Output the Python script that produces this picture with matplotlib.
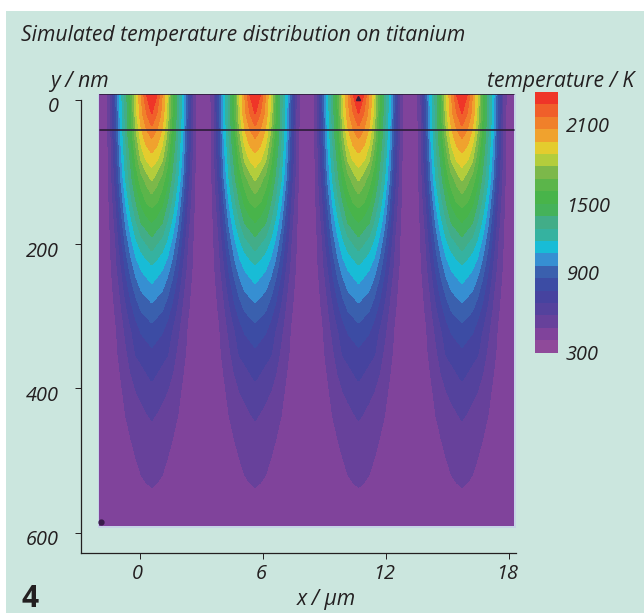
import numpy as np
import matplotlib
matplotlib.use("Agg")
import matplotlib.pyplot as plt
from matplotlib.colors import ListedColormap, BoundaryNorm
from matplotlib.patches import Rectangle
from matplotlib.transforms import ScaledTranslation

title = "Simulated temperature distribution on titanium"
x_label = "x / µm"
y_label = "y / nm"
cbar_label = "temperature / K"
panel = "4"
x_ticks = [0, 6, 12, 18]
y_ticks = [0, 200, 400, 600]
cbar_ticks = [300, 900, 1500, 2100]

peak_x = [0.585, 5.625, 10.665, 15.705]
offsets = [0, 0.25, 0.5, 0.75, 1.0, 1.25, 1.5, 1.75, 2.0, 2.25, 2.52]
depths = [-8, 20, 50, 80, 110, 140, 170, 200, 230, 260, 290, 320, 350, 400, 450, 500, 550, 590]
temperature = [
    [2310, 2220, 2028, 1836, 1548, 1300, 1120, 870, 570, 430, 410],
    [2215, 2110, 1993, 1803, 1527, 1292, 1106, 836, 564, 425, 410],
    [2040, 1988, 1890, 1710, 1474, 1266, 1075, 810, 557, 425, 410],
    [1900, 1859, 1766, 1592, 1390, 1224, 1027, 769, 547, 420, 410],
    [1750, 1676, 1602, 1483, 1316, 1170, 972, 719, 534, 420, 410],
    [1590, 1558, 1477, 1362, 1235, 1085, 888, 660, 519, 420, 410],
    [1447, 1403, 1359, 1247, 1135, 996, 810, 615, 502, 420, 410],
    [1304, 1254, 1204, 1134, 1031, 900, 734, 579, 490, 420, 410],
    [1154, 1121, 1088, 1028, 934, 809, 670, 553, 480, 420, 410],
    [1048, 1018, 988, 922, 834, 731, 611, 524, 465, 420, 410],
    [938, 911, 885, 825, 752, 659, 571, 502, 455, 420, 410],
    [838, 814, 790, 738, 672, 606, 540, 480, 445, 420, 410],
    [761, 738, 715, 693, 633, 569, 513, 475, 440, 420, 410],
    [663, 640, 617, 593, 555, 515, 482, 455, 425, 415, 410],
    [578, 560, 540, 520, 503, 485, 465, 440, 420, 412, 410],
    [525, 514, 503, 490, 475, 460, 445, 425, 415, 410, 410],
    [480, 478, 475, 470, 460, 450, 440, 425, 415, 410, 410],
    [460, 458, 455, 450, 445, 440, 435, 425, 420, 415, 410],
]
levels = [300, 396, 492, 588, 684, 780, 876, 972, 1068, 1164, 1260, 1356, 1452,
          1548, 1644, 1740, 1836, 1932, 2028, 2124, 2220, 2316]
band_colors = ["#8f4a9a", "#80439b", "#67419b", "#54429d", "#46439f", "#3c4ca4", "#3a60ae",
               "#368fd2", "#18bcd6", "#35b2a0", "#42ad88", "#45b25a", "#48b44a", "#5bb54a",
               "#7cb84a", "#b3cd3c", "#e4cc2e", "#f0a22e", "#f0802a", "#f05f2a", "#ef3528"]
line_depths = [-8, 41]
mark_x = [10.66, -1.87]
mark_y = [-3, 585]

W, H = 644, 613
BG = "#cbe6de"
INK = "#231f20"
plt.rcParams["font.family"] = ["Open Sans", "Noto Sans", "DejaVu Sans"]
fig = plt.figure(figsize=(W / 100, H / 100), dpi=100, facecolor="white")


def px_box(x0, y0, x1, y1):
    return [x0 / W, 1 - y1 / H, (x1 - x0) / W, (y1 - y0) / H]


def px_text(x, y, s, **kw):
    kw.setdefault("color", INK)
    kw.setdefault("style", "italic")
    kw.setdefault("fontsize", 15.2)
    return fig.text(x / W, 1 - y / H, s, **kw)


fig.add_artist(Rectangle((6 / W, 0), 1 - 6 / W, 1 - 11 / H, transform=fig.transFigure,
                         facecolor=BG, edgecolor="none", zorder=-10))

ax = fig.add_axes(px_box(81, 94, 516, 553))
ax.patch.set_alpha(0)
ax.set_xlim(-2.86, 18.34)
ax.set_ylim(628.3, -8.3)

off = np.array(offsets)
T = np.array(temperature, dtype=float)
xs, cols = [], []
for i, c in enumerate(peak_x):
    left = c - off[::-1]
    right = c + off[1:]
    block_x = np.r_[left, right]
    block_t = np.c_[T[:, ::-1], T[:, 1:]]
    if i > 0:
        block_x = block_x[1:]
        block_t = block_t[:, 1:]
    xs.append(block_x)
    cols.append(block_t)
X = np.concatenate(xs)
Z = np.hstack(cols)

cmap = ListedColormap(band_colors)
norm = BoundaryNorm(levels, cmap.N)
ax.add_patch(Rectangle((X[0] - 0.12, depths[0]), X[-1] - X[0] + 0.24, depths[-1] - depths[0] + 3,
                       facecolor="#c6d3e6", edgecolor="none", zorder=1))
cs = ax.contourf(X, depths, Z, levels=levels, cmap=cmap, norm=norm, zorder=2)
cs.set_edgecolor("face")
cs.set_linewidth(0.4)

for d in line_depths:
    ax.plot([X[0], X[-1]], [d, d], color="#2b1c38", lw=1.2, zorder=3, solid_capstyle="round")
ax.plot(mark_x[:1], mark_y[:1], marker="^", ms=3, color="#3a1c3c", zorder=4, clip_on=False)
ax.plot(mark_x[1:], mark_y[1:], marker="o", ms=3.5, color="#3a1c4c", zorder=4, clip_on=False)

for s in ["top", "right"]:
    ax.spines[s].set_visible(False)
for s in ["left", "bottom"]:
    ax.spines[s].set_linewidth(0.9)
    ax.spines[s].set_color(INK)
ax.spines["left"].set_bounds(0, 628.3)
ax.set_xticks(x_ticks)
ax.set_yticks(y_ticks)
ax.tick_params(axis="x", length=4.3, width=0.7, color=INK, pad=3.5, labelsize=14.3, labelcolor=INK)
ax.tick_params(axis="y", length=4.3, width=0.7, color=INK, pad=11.5, labelsize=14.3, labelcolor=INK)
drop = ScaledTranslation(0, -5 / 100, fig.dpi_scale_trans)
nudge = ScaledTranslation(-2 / 100, 0, fig.dpi_scale_trans)
for lab in ax.get_yticklabels():
    lab.set_style("italic")
    lab.set_transform(lab.get_transform() + drop)
for lab in ax.get_xticklabels():
    lab.set_style("italic")
    lab.set_transform(lab.get_transform() + nudge)

cax = fig.add_axes(px_box(535, 92, 558, 352.7))
cax.pcolormesh([0, 1], levels, np.arange(len(band_colors)).reshape(-1, 1),
               cmap=cmap, shading="flat")
cax.set_ylim(levels[0], levels[-1])
cax.set_xlim(0, 1)
cax.axis("off")
cbar_px = [355.5, 275.5, 206.5, 126.5]
for v, py in zip(cbar_ticks, cbar_px):
    px_text(566, py, str(v), va="center", ha="left", fontsize=14.3)

px_text(21, 36, title, va="center", ha="left")
px_text(79, 81.5, y_label, va="center", ha="center")
px_text(560.5, 82, cbar_label, va="center", ha="center")
px_text(326, 599, x_label, va="center", ha="center")
px_text(21, 607, panel, va="baseline", ha="left", style="normal", weight="bold", fontsize=21.5)

fig.savefig("out.png", dpi=100)
